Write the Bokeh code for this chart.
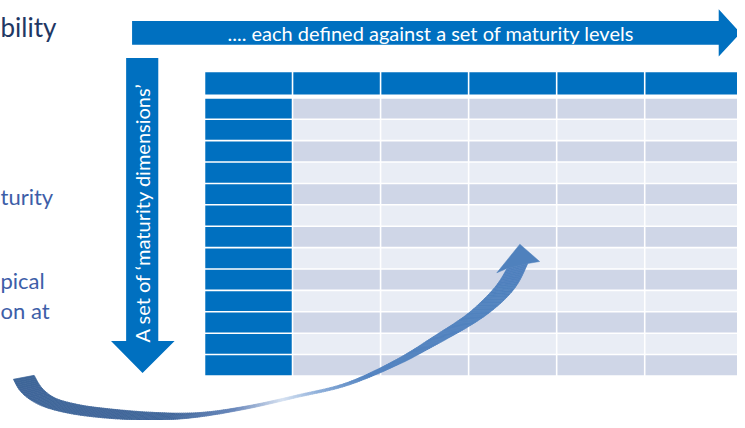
import numpy as np
from bokeh.plotting import figure
from bokeh.models import Range1d
from bokeh.core.properties import value
from bokeh.embed import file_html
from bokeh.resources import INLINE

# ---- content ----
header_text = ".... each defined against a set of maturity levels"
side_text = "A set of  \u2018maturity dimensions\u2019"
left_fragments = ["bility", "turity", "pical", "on at"]
n_levels = 6          # columns (maturity levels) incl. dimension-name column
n_dimensions = 13     # data rows

BLUE = "#0070C0"
ROW_DARK = "#CFD6E7"
ROW_LIGHT = "#E9EDF5"
NAVY = "#1F3864"
MID = "#3D5EA8"
FONT = "Lato"

W, H = 745, 428
p = figure(width=737, height=420, output_backend="svg", toolbar_location=None,
           x_range=Range1d(0, W), y_range=Range1d(H, 0), min_border=0)
p.axis.visible = False
p.grid.visible = False
p.outline_line_color = None
p.background_fill_color = "white"
p.border_fill_color = "white"

# ---- table ----
x0, col_w, gap = 207.0, 89.0, 1.6
lefts = [x0 + j * col_w for j in range(n_levels)]
rights = [l + col_w - gap for l in lefts]
rights[-1] = W + 5
# header row
p.quad(left=lefts, right=rights, top=[73] * n_levels, bottom=[95.8] * n_levels,
       fill_color=BLUE, line_color=None)
# data rows
y0, row_h = 100.0, 21.8
L, R, T, B, C = [], [], [], [], []
for i in range(n_dimensions):
    top = y0 + i * row_h
    bot = top + row_h - gap
    for j in range(n_levels):
        L.append(lefts[j]); R.append(rights[j]); T.append(top); B.append(bot)
        C.append(BLUE if j == 0 else (ROW_DARK if i % 2 == 0 else ROW_LIGHT))
p.quad(left=L, right=R, top=T, bottom=B, fill_color=C, line_color=None)

# ---- arrows ----
p.patch([133, 726, 726, 748, 726, 726, 133], [21, 21, 9, 33, 57, 45, 45],
        fill_color=BLUE, line_color=None)
p.patch([127, 159.5, 159.5, 176, 143.6, 111.7, 127], [58.5, 58.5, 347, 347, 379.5, 347, 347],
        fill_color=BLUE, line_color=None)

p.text(x=[435], y=[33.5], text=[header_text], text_color="white",
       text_font=value(FONT), text_font_size="20px",
       text_align="center", text_baseline="middle")
p.text(x=[143.5], y=[213.5], text=[side_text], text_color="white", angle=np.pi / 2,
       text_font=value(FONT), text_font_size="20px",
       text_align="center", text_baseline="middle")

# ---- left text fragments ----
p.text(x=[0], y=[27], text=[left_fragments[0]], text_color=NAVY,
       text_font=value(FONT), text_font_size="26px", text_baseline="alphabetic")
p.text(x=[0, 0, 0], y=[200, 285, 316], text=left_fragments[1:], text_color=MID,
       text_font=value(FONT), text_font_size="22px", text_baseline="alphabetic")

# ---- curved swoosh arrow ----
def catmull(pts, samples=24):
    P = np.asarray(pts, float)
    P = np.vstack([P[0], P, P[-1]])
    out = []
    for i in range(1, len(P) - 2):
        p0, p1, p2, p3 = P[i - 1], P[i], P[i + 1], P[i + 2]
        for t in np.linspace(0, 1, samples, endpoint=False):
            t2, t3 = t * t, t * t * t
            out.append(0.5 * (2 * p1 + (-p0 + p2) * t + (2 * p0 - 5 * p1 + 4 * p2 - p3) * t2
                              + (-p0 + 3 * p1 - 3 * p2 + p3) * t3))
    out.append(P[-2])
    return np.array(out)

def resample(c, n):
    d = np.r_[0, np.cumsum(np.hypot(*np.diff(c, axis=0).T))]
    s = np.linspace(0, d[-1], n)
    return np.c_[np.interp(s, d, c[:, 0]), np.interp(s, d, c[:, 1])]

upper = [(34, 382), (42, 395), (55, 405), (75, 411), (100, 415), (150, 419.5), (200, 420),
         (250, 413), (300, 402), (350, 389.5), (400, 366), (440, 341), (470, 321),
         (490, 303), (503, 288), (512, 273)]
lower = [(13, 386), (20, 398), (32, 408), (50, 416), (80, 422.5), (120, 426.5), (160, 427.5),
         (200, 424.5), (250, 416), (300, 404.5), (350, 392.5), (400, 372), (440, 351),
         (480, 328), (505, 309), (522, 290), (533, 268)]
N = 260
U = resample(catmull(upper), N)
Lo = resample(catmull(lower), N)

stops_x = [0, 170, 235, 285, 320, 370, 560]
stops_c = ["#3E6598", "#41679B", "#6383B8", "#D6E1F1", "#8EAFDA", "#5283C0", "#4F81BD"]
rgb = np.array([[int(c[k:k + 2], 16) for k in (1, 3, 5)] for c in stops_c], float)

xs, ys, cols = [], [], []
for i in range(N - 1):
    qx = [U[i, 0], U[i + 1, 0], Lo[i + 1, 0], Lo[i, 0]]
    qy = [U[i, 1], U[i + 1, 1], Lo[i + 1, 1], Lo[i, 1]]
    mx = float(np.mean(qx))
    c = [int(round(np.interp(mx, stops_x, rgb[:, k]))) for k in range(3)]
    xs.append(qx); ys.append(qy); cols.append("#%02x%02x%02x" % tuple(c))
p.patches(xs, ys, fill_color=cols, line_color=cols, line_width=0.7)
# arrow head
p.patch([512, 501.7, 525, 545, 533], [273, 277.5, 248.3, 266, 268],
        fill_color="#4F81BD", line_color="#4F81BD", line_width=0.5)

open("out.html", "w").write(file_html(p, INLINE))
